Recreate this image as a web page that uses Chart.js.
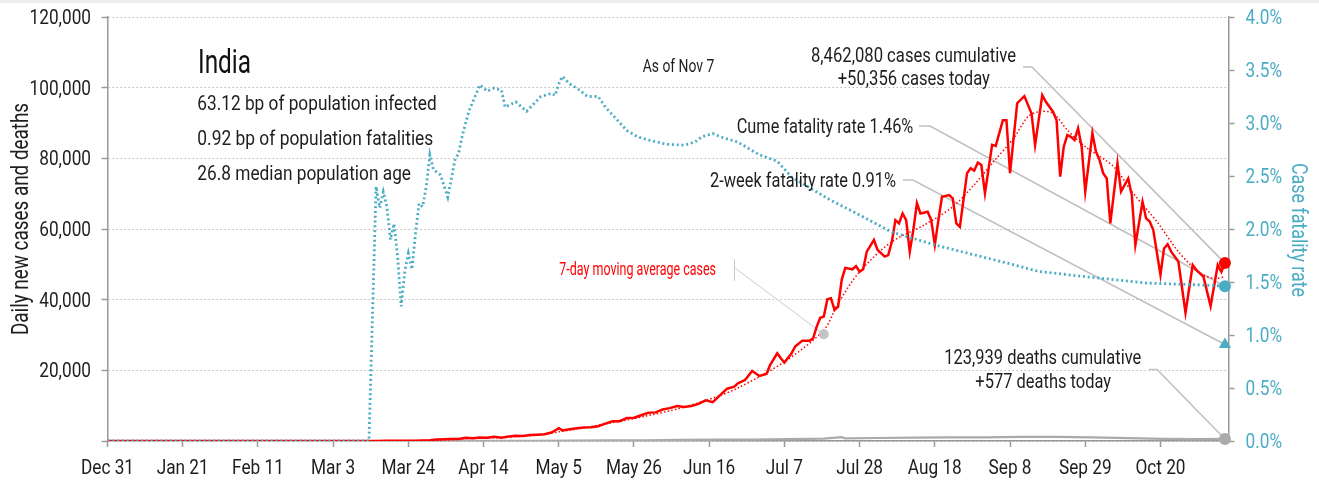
<!DOCTYPE html>
<html><head><meta charset="utf-8">
<script src="https://cdn.jsdelivr.net/npm/chart.js@4.4.1/dist/chart.umd.min.js"></script>
<style>
html,body{margin:0;padding:0;background:#fff;overflow:hidden;}
#wrap{position:absolute;left:0;top:0;width:1319px;height:480px;}
#topbar{position:absolute;left:0;top:0;width:1319px;height:3px;background:#eeeeee;}
</style></head><body>
<div id="wrap"><canvas id="c" width="1319" height="480"></canvas></div>
<div id="topbar"></div>
<script>
// ---- axis ticks (days since Dec 31, 2019) ----
const tickDays = [0,21,42,63,84,105,126,147,168,189,210,231,252,273,294];
const tickLabels = ['Dec 31','Jan 21','Feb 11','Mar 3','Mar 24','Apr 14','May 5','May 26','Jun 16','Jul 7','Jul 28','Aug 18','Sep 8','Sep 29','Oct 20'];

// ---- daily new cases ----
const caseDays = [0,30,61,65,70,75,78,81,84,86,88,90,92,94,96,98,100,102,104,106,108,110,112,114,116,118,120,122,124,126,127,129,131,133,135,137,139,141,143,145,147,149,151,153,155,157,159,161,163,165,167,169,171,173,175,176,178,180,182,184,185,187,188,189,191,192,194,196,197,198,199,200,201,202,203,204,205,206,208,209,210,211,212,214,215,217,218,219,220,221,222,223,224,225,226,227,229,230,231,232,233,235,236,237,238,240,241,242,243,244,245,247,248,250,251,252,253,254,256,258,259,261,262,264,265,266,267,268,269,270,271,272,273,275,276,277,278,279,280,282,283,285,286,287,289,290,291,292,294,295,296,297,299,301,303,304,306,308,310,311,312];
const caseValues = [0,0,0,5,15,20,60,70,90,100,150,230,440,500,600,550,900,800,1000,950,1200,900,1300,1500,1400,1700,1800,1900,2400,3600,3000,3300,3600,3800,3900,4200,4900,5600,5600,6500,6600,7300,8000,8100,8900,9300,9900,9600,9900,10500,11500,11000,12900,14800,15400,16300,17260,19800,18400,19000,21500,24800,23400,22200,24800,26700,28400,28400,29000,32300,34900,35200,40100,40400,37100,38000,45600,49000,48600,49500,47900,48600,53600,56900,54100,52200,52600,56400,62500,61600,64400,62500,53600,59700,67300,64400,64900,62500,55500,62500,69100,69600,68700,61600,60600,75800,77200,76500,78800,78100,70100,83800,83500,90800,90800,75800,85700,95600,97600,92700,83800,97900,96000,93200,90800,74800,83300,86600,86100,85200,88500,83300,70600,87100,81900,79500,75800,74300,61600,78600,70600,74300,69600,55500,67700,63000,62100,59700,47000,54500,55700,53600,50800,36300,49800,48400,46500,38200,49800,47900,50356];

// ---- 7-day moving average cases ----
const avgDays = [0,61,80,90,100,110,120,126,130,140,150,160,170,176,189,200,204,210,219,228,236,242,247,253,257,260,264,268,273,281,286,293,299,305,309,312];
const avgValues = [0,0,60,150,650,1000,1700,2600,3200,5000,7000,9300,12500,15000,22400,31400,39000,47900,56400,61100,66300,72500,78600,85700,91800,93200,92800,88000,83300,77600,70600,62100,53600,47500,46000,46500];

// ---- daily deaths ----
const deathDays = [0,75,90,100,110,120,130,140,150,160,170,180,190,200,205,206,215,225,235,245,255,265,275,285,295,305,312];
const deathValues = [0,1,10,40,50,70,100,160,200,300,380,420,550,700,1100,750,850,950,1000,1050,1150,1150,1000,800,600,550,577];

// ---- case fatality rate (%) ----
const cfrDays = [0,73,75,76,77,78,79,80,81,82,83,84,85,86,87,88,89,90,91,93,95,97,98,99,100,101,103,104,106,108,110,111,114,116,117,119,121,124,125,126,127,129,131,134,137,139,142,145,148,151,156,161,164,166,169,172,176,179,182,187,191,202,209,219,231,238,251,260,273,290,307,312];
const cfrValues = [0,0,2.40,2.20,2.35,2.21,1.90,2.05,1.74,1.27,1.60,1.77,1.62,1.96,2.24,2.21,2.40,2.70,2.56,2.51,2.30,2.65,2.71,2.87,3.00,3.12,3.28,3.36,3.30,3.33,3.31,3.15,3.20,3.14,3.11,3.18,3.25,3.28,3.26,3.37,3.44,3.37,3.33,3.25,3.25,3.15,3.04,2.93,2.87,2.84,2.80,2.79,2.82,2.87,2.90,2.86,2.82,2.76,2.70,2.64,2.49,2.27,2.15,1.97,1.85,1.79,1.68,1.60,1.55,1.49,1.47,1.46];

// ---- latest values ----
const latestDay = 312;
const casesToday = 50356;
const deathsToday = 577;
const cumeCFR = 1.46;
const twoWeekCFR = 0.91;
const avgMarkerDay = 200;
const avgMarkerValue = 30200;

// ---- texts ----
const titleText = 'India';
const statLines = ['63.12 bp of population infected','0.92 bp of population fatalities','26.8 median population age'];
const asOfText = 'As of Nov 7';
const casesLines = ['8,462,080 cases cumulative','+50,356 cases today'];
const cumeText = 'Cume fatality rate 1.46%';
const twoWeekText = '2-week fatality rate 0.91%';
const avgText = '7-day moving average cases';
const deathLines = ['123,939 deaths cumulative','+577 deaths today'];
const leftTitle = 'Daily new cases and deaths';
const rightTitle = 'Case fatality rate';

const FF = "Roboto, 'Liberation Sans', sans-serif";
const SX = 0.82;
const BLUE = '#4bacc6';
const RED = '#ff0000';
const GRAY = '#aaaaaa';
const INK = '#1e1e1e';
const pts = (d, v) => d.map((x, i) => ({x: x, y: v[i]}));

function txt(ctx, s, x, y, size, align, color, w, rot) {
  ctx.save();
  ctx.font = size + 'px ' + FF;
  const m = ctx.measureText(s).width;
  const k = w ? w / m : SX;
  ctx.translate(x, y);
  if (rot) ctx.rotate(rot);
  ctx.scale(k, 1);
  ctx.textAlign = align;
  ctx.textBaseline = 'alphabetic';
  ctx.fillStyle = color;
  ctx.fillText(s, 0, 0);
  ctx.restore();
}

const annot = {
  id: 'annot',
  beforeDatasetsDraw(chart) {
    const {ctx, scales: {x, y, y2}} = chart;
    const px = x.getPixelForValue(latestDay);
    ctx.save();
    ctx.strokeStyle = '#c0c0c0';
    ctx.lineWidth = 1.6;
    const lines = [
      [[1023, 67], [1032, 67], [px, y.getPixelForValue(casesToday)]],
      [[919, 126], [930, 126], [px, y2.getPixelForValue(cumeCFR)]],
      [[903, 180], [913, 180], [px, y2.getPixelForValue(twoWeekCFR)]],
      [[1149, 369.5], [1157, 369.5], [px, y.getPixelForValue(deathsToday)]]
    ];
    lines.forEach(l => {
      ctx.beginPath();
      ctx.moveTo(l[0][0], l[0][1]);
      ctx.lineTo(l[1][0], l[1][1]);
      ctx.lineTo(l[2][0], l[2][1]);
      ctx.stroke();
    });
    ctx.strokeStyle = '#cccccc';
    ctx.lineWidth = 1;
    ctx.beginPath();
    ctx.moveTo(734.5, 259); ctx.lineTo(734.5, 281);
    ctx.moveTo(735, 268);
    ctx.lineTo(x.getPixelForValue(avgMarkerDay), y.getPixelForValue(avgMarkerValue));
    ctx.stroke();
    ctx.restore();
  },
  afterDraw(chart) {
    const {ctx, scales: {x, y, y2}} = chart;
    // axis tick labels
    x.ticks.forEach(t => {
      const i = tickDays.indexOf(t.value);
      if (i >= 0) txt(ctx, tickLabels[i], x.getPixelForValue(t.value), 473.5, 21, 'center', INK);
    });
    y.ticks.forEach(t => {
      if (t.value === 0) return;
      txt(ctx, t.value.toLocaleString('en-US'), 91, y.getPixelForValue(t.value) + 7, 21, 'right', INK);
    });
    y2.ticks.forEach(t => {
      txt(ctx, t.value.toFixed(1) + '%', 1245.5, y2.getPixelForValue(t.value) + 6.8, 21, 'left', BLUE);
    });
    // axis titles
    txt(ctx, leftTitle, 28, (chart.chartArea.top + chart.chartArea.bottom) / 2 - 10, 23, 'center', INK, null, -Math.PI / 2);
    txt(ctx, rightTitle, 1291.5, (chart.chartArea.top + chart.chartArea.bottom) / 2 + 1, 22, 'center', BLUE, 134, Math.PI / 2);
    // annotations
    txt(ctx, titleText, 198, 73, 34, 'left', '#111', 53);
    txt(ctx, statLines[0], 197.3, 110, 21, 'left', INK, 239.4);
    txt(ctx, statLines[1], 197.3, 144.5, 21, 'left', INK, 236);
    txt(ctx, statLines[2], 197.3, 179.5, 21, 'left', INK, 213.7);
    txt(ctx, asOfText, 642.7, 72.3, 18, 'left', INK, 71.6);
    txt(ctx, casesLines[0], 913.5, 61.7, 20, 'center', INK, 205);
    txt(ctx, casesLines[1], 913.8, 85, 20, 'center', INK, 152.3);
    txt(ctx, cumeText, 913.3, 132.7, 20.5, 'right', INK, 176.6);
    txt(ctx, twoWeekText, 896, 186.7, 21, 'right', INK, 186);
    txt(ctx, avgText, 716, 275, 18, 'right', RED, 156.7);
    txt(ctx, deathLines[0], 1042.8, 364, 19.5, 'center', INK, 197);
    txt(ctx, deathLines[1], 1043.2, 388.3, 19.5, 'center', INK, 135.7);
  }
};

new Chart(document.getElementById('c'), {
  type: 'line',
  data: {
    datasets: [
      {data: [{x: latestDay, y: casesToday}], yAxisID: 'y', showLine: false, pointRadius: 6, pointBackgroundColor: RED, pointBorderWidth: 0, clip: false, order: 0},
      {data: [{x: latestDay, y: cumeCFR}], yAxisID: 'y2', showLine: false, pointRadius: 6, pointBackgroundColor: BLUE, pointBorderWidth: 0, clip: false, order: 0},
      {data: [{x: latestDay, y: twoWeekCFR}], yAxisID: 'y2', showLine: false, pointStyle: 'triangle', pointRadius: 7, pointBackgroundColor: BLUE, pointBorderWidth: 0, clip: false, order: 0},
      {data: [{x: latestDay, y: deathsToday}], yAxisID: 'y', showLine: false, pointRadius: 6, pointBackgroundColor: GRAY, pointBorderWidth: 0, clip: false, order: 0},
      {data: [{x: avgMarkerDay, y: avgMarkerValue}], yAxisID: 'y', showLine: false, pointRadius: 5, pointBackgroundColor: '#c4c4c4', pointBorderWidth: 0, clip: false, order: 0},
      {data: pts(cfrDays, cfrValues), yAxisID: 'y2', borderColor: BLUE, borderWidth: 2.8, borderDash: [2, 2.8], pointRadius: 0, tension: 0, order: 1},
      {data: pts(caseDays, caseValues), yAxisID: 'y', borderColor: RED, borderWidth: 2.5, pointRadius: 0, tension: 0, order: 2},
      {data: pts(avgDays, avgValues), yAxisID: 'y', borderColor: RED, borderWidth: 1.5, borderDash: [1.5, 2.2], pointRadius: 0, tension: 0.3, order: 3},
      {data: pts(deathDays, deathValues), yAxisID: 'y', borderColor: GRAY, borderWidth: 2.2, pointRadius: 0, tension: 0, order: 4}
    ]
  },
  options: {
    responsive: false,
    animation: false,
    events: [],
    layout: {padding: {top: 17, left: 0, right: 0, bottom: 0}},
    plugins: {legend: {display: false}, tooltip: {enabled: false}},
    scales: {
      x: {
        type: 'linear', min: 0, max: 313,
        afterBuildTicks: s => { s.ticks = tickDays.map(v => ({value: v})); },
        afterFit: s => { s.height = 39; },
        ticks: {display: false},
        grid: {drawOnChartArea: false, tickLength: 6, tickColor: '#999', tickWidth: 1.5},
        border: {color: '#999', width: 1.5}
      },
      y: {
        position: 'left', min: 0, max: 120000,
        afterFit: s => { s.width = 107.5; },
        ticks: {display: false, stepSize: 20000},
        grid: {color: '#b8b8b8', lineWidth: 1, tickLength: 6, tickColor: '#999', tickWidth: 1.5},
        border: {color: '#999', width: 1.5, dash: [1.5, 2.5]}
      },
      y2: {
        position: 'right', min: 0, max: 4,
        afterFit: s => { s.width = 90.5; },
        ticks: {display: false, stepSize: 0.5},
        grid: {drawOnChartArea: false, tickLength: 6, tickColor: '#999', tickWidth: 1.5},
        border: {color: '#999', width: 1.5}
      }
    }
  },
  plugins: [annot]
});
</script>
</body></html>
